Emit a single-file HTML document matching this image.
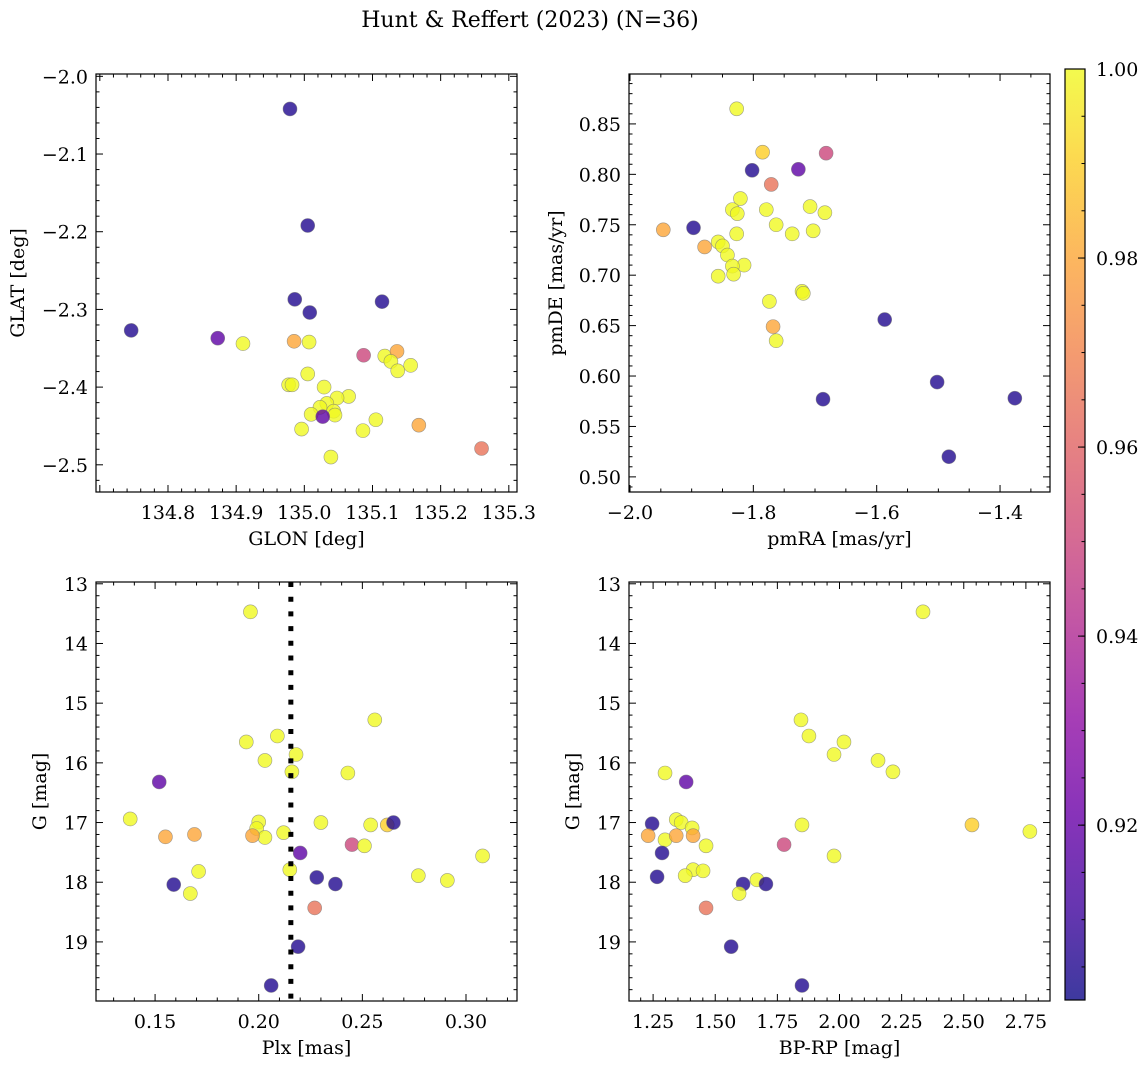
<!DOCTYPE html>
<html><head><meta charset="utf-8"><style>
body{margin:0;background:#fff}
svg text{font-family:"DejaVu Serif","Liberation Serif",serif;fill:#000}
</style></head><body>
<svg id="fig" xmlns="http://www.w3.org/2000/svg" width="1148" height="1068" viewBox="0 0 1148 1068">
<rect width="1148" height="1068" fill="#fff"/>
<text x="530" y="27" font-size="22" text-anchor="middle">Hunt &amp; Reffert (2023) (N=36)</text>
</svg>
<script>
// ---- data (per panel) ----
const glonVals=[134.746,134.873,134.910,134.979,135.005,134.986,135.008,135.114,134.985,135.007,135.087,135.118,135.136,135.127,135.137,135.156,135.005,134.977,134.982,135.029,135.065,135.048,135.033,135.023,135.043,135.045,135.010,135.027,134.996,135.086,135.105,135.168,135.039,135.260];
const glatVals=[-2.327,-2.337,-2.344,-2.042,-2.192,-2.287,-2.304,-2.290,-2.341,-2.342,-2.359,-2.360,-2.354,-2.367,-2.379,-2.372,-2.383,-2.397,-2.397,-2.400,-2.412,-2.414,-2.421,-2.426,-2.431,-2.436,-2.435,-2.438,-2.454,-2.456,-2.442,-2.449,-2.490,-2.479];
const probTL=[0.905,0.918,1,0.905,0.905,0.905,0.905,0.905,0.98,1,0.95,1,0.98,1,1,1,1,1,1,1,1,1,1,1,1,1,1,0.918,1,1,1,0.98,1,0.965];
const pmraVals=[-1.827,-1.785,-1.682,-1.727,-1.802,-1.771,-1.821,-1.834,-1.826,-1.779,-1.708,-1.684,-1.763,-1.737,-1.703,-1.827,-1.897,-1.946,-1.879,-1.857,-1.850,-1.842,-1.815,-1.834,-1.832,-1.857,-1.721,-1.719,-1.774,-1.768,-1.763,-1.587,-1.502,-1.687,-1.483,-1.376];
const pmdeVals=[0.865,0.822,0.821,0.805,0.804,0.790,0.776,0.765,0.761,0.765,0.768,0.762,0.750,0.741,0.744,0.741,0.747,0.745,0.728,0.733,0.729,0.720,0.710,0.709,0.701,0.699,0.684,0.682,0.674,0.649,0.635,0.656,0.594,0.577,0.520,0.578];
const probTR=[1,0.99,0.95,0.918,0.905,0.965,1,1,1,1,1,1,1,1,1,1,0.905,0.98,0.98,1,1,1,1,1,1,1,1,1,1,0.98,1,0.905,0.905,0.905,0.905,0.905];
const plxVals=[0.196,0.256,0.194,0.209,0.203,0.218,0.216,0.243,0.152,0.138,0.200,0.199,0.203,0.197,0.212,0.155,0.169,0.230,0.254,0.262,0.265,0.245,0.251,0.220,0.308,0.171,0.215,0.159,0.228,0.237,0.167,0.277,0.291,0.227,0.219,0.206];
const gBL=[13.47,15.28,15.65,15.55,15.96,15.86,16.15,16.17,16.32,16.94,16.99,17.10,17.25,17.22,17.17,17.24,17.20,17.00,17.04,17.04,17.00,17.37,17.39,17.51,17.56,17.82,17.79,18.04,17.92,18.03,18.19,17.89,17.97,18.43,19.08,19.73];
const probBL=[1,1,1,1,1,1,1,1,0.918,1,1,1,1,0.98,1,0.98,0.98,1,1,0.99,0.905,0.95,1,0.918,1,1,1,0.905,0.905,0.905,1,1,1,0.965,0.905,0.905];
const bprpVals=[2.336,1.845,1.877,2.018,1.978,2.155,2.215,1.298,1.383,1.246,1.230,1.298,1.343,1.363,1.407,1.343,1.411,1.849,2.533,2.766,1.463,1.777,1.286,1.978,1.411,1.451,1.379,1.266,1.612,1.668,1.704,1.596,1.463,1.564,1.849];
const gBR=[13.47,15.28,15.55,15.65,15.86,15.96,16.15,16.17,16.32,17.02,17.22,17.29,16.95,17.00,17.09,17.22,17.22,17.04,17.04,17.15,17.39,17.37,17.51,17.56,17.79,17.81,17.89,17.91,18.03,17.96,18.03,18.19,18.43,19.08,19.73];
const probBR=[1,1,1,1,1,1,1,1,0.918,0.905,0.98,1,1,1,1,0.98,0.98,1,0.99,1,1,0.95,0.905,1,1,1,1,0.905,0.905,1,0.905,1,0.965,0.905,0.905];
const plxLine=0.2155;
const cbTicks=[0.92,0.94,0.96,0.98,1.00];

const NS="http://www.w3.org/2000/svg";
const svg=document.getElementById('fig');
function mk(tag,attrs,parent){const e=document.createElementNS(NS,tag);for(const k in attrs)e.setAttribute(k,attrs[k]);(parent||svg).appendChild(e);return e;}
const stops=[[0,'#0d0887'],[0.1,'#41049d'],[0.2,'#6a00a8'],[0.3,'#8f0da4'],[0.4,'#b12a90'],[0.5,'#cc4778'],[0.6,'#e16462'],[0.7,'#f2844b'],[0.8,'#fca636'],[0.9,'#fcce25'],[1,'#f0f921']];
const CMIN=0.9015,CMAX=1.0;
function hex(h){return [1,3,5].map(i=>parseInt(h.substr(i,2),16));}
function plasma(v){let t=(v-CMIN)/(CMAX-CMIN);t=Math.max(0,Math.min(1,t));for(let i=0;i<stops.length-1;i++){if(t<=stops[i+1][0]){const f=(t-stops[i][0])/(stops[i+1][0]-stops[i][0]);const a=hex(stops[i][1]),b=hex(stops[i+1][1]);return 'rgb('+a.map((c,j)=>Math.round(c+(b[j]-c)*f)).join(',')+')';}}return stops[10][1];}
function fmt(v,d){const s=Math.abs(v).toFixed(d);return (v<-1e-9?'\u2212':'')+s;}
const FS=19;

function panel(o){
  const g=mk('g',{});
  
  
  const L=o.x0,R=o.x1,T=o.y0,B=o.y1;
  const sx=v=>L+(v-o.xmin)/(o.xmax-o.xmin)*(R-L);
  const sy=o.invert?(v=>T+(v-o.ymin)/(o.ymax-o.ymin)*(B-T)):(v=>B-(v-o.ymin)/(o.ymax-o.ymin)*(B-T));
  const pg=mk('g',{},g);
  
  
  for(let i=0;i<o.xs.length;i++){
    const c=mk('circle',{cx:sx(o.xs[i]),cy:sy(o.ys[i]),r:7,fill:plasma(o.p[i]),'fill-opacity':0.8,stroke:'#777','stroke-opacity':0.7,'stroke-width':0.6},pg);
    
    
  }
  if(o.vline!==undefined){
    const ln=mk('line',{x1:sx(o.vline),x2:sx(o.vline),y1:T,y2:B,stroke:'#000','stroke-width':5,'stroke-dasharray':'5,9.7'},g);
    
    
  }
  const tg=mk('g',{stroke:'#000','stroke-width':1},g);
  const eps=1e-9;
  let s=Math.ceil(o.xmin/o.xminor-eps);
  for(let k=s;k*o.xminor<=o.xmax+eps;k++){const v=k*o.xminor;const maj=Math.abs(v/o.xmajor-Math.round(v/o.xmajor))<1e-6;const len=maj?7:3.5;const X=sx(v);
    mk('line',{x1:X,x2:X,y1:B,y2:B-len},tg);mk('line',{x1:X,x2:X,y1:T,y2:T+len},tg);
    if(maj&&!(o.hideEdge&&X-L<10)){const t=mk('text',{x:X,y:B+27,'font-size':FS,'text-anchor':'middle',stroke:'none'},g);t.textContent=fmt(v,o.xd);}}
  s=Math.ceil(o.ymin/o.yminor-eps);
  for(let k=s;k*o.yminor<=o.ymax+eps;k++){const v=k*o.yminor;const maj=Math.abs(v/o.ymajor-Math.round(v/o.ymajor))<1e-6;const len=maj?7:3.5;const Y=sy(v);
    mk('line',{x1:L,x2:L+len,y1:Y,y2:Y},tg);mk('line',{x1:R,x2:R-len,y1:Y,y2:Y},tg);
    if(maj){const t=mk('text',{x:L-8,y:Y+7,'font-size':FS,'text-anchor':'end',stroke:'none'},g);t.textContent=fmt(v,o.yd);}}
  const fr=mk('rect',{x:L,y:T,width:R-L,height:B-T,fill:'none',stroke:'#000','stroke-width':1.2},g);
  
  const xl=mk('text',{x:(L+R)/2,y:B+53,'font-size':FS,'text-anchor':'middle'},g);xl.textContent=o.xlabel;
  
  const yl=mk('text',{x:o.ylx,y:(T+B)/2,'font-size':FS,'text-anchor':'middle',transform:'rotate(-90 '+o.ylx+' '+(T+B)/2+')'},g);yl.textContent=o.ylabel;
  
}
panel({name:'glon-glat-panel',x0:96,x1:517,y0:74,y1:492,xmin:134.6944,xmax:135.312,hideEdge:true,ymin:-2.535,ymax:-1.997,xmajor:0.1,xminor:0.02,ymajor:0.1,yminor:0.02,xd:1,yd:1,xs:glonVals,ys:glatVals,p:probTL,xlabel:'GLON [deg]',ylabel:'GLAT [deg]',ylx:24});
panel({name:'proper-motion-panel',x0:629,x1:1050,y0:74,y1:492,xmin:-2.0016,xmax:-1.319,ymin:0.485,ymax:0.8995,xmajor:0.2,xminor:0.05,ymajor:0.05,yminor:0.01,xd:1,yd:2,xs:pmraVals,ys:pmdeVals,p:probTR,xlabel:'pmRA [mas/yr]',ylabel:'pmDE [mas/yr]',ylx:562});
panel({name:'parallax-magnitude-panel',x0:96,x1:517,y0:582,y1:1001,xmin:0.1215,xmax:0.3246,ymin:12.97,ymax:19.99,invert:true,xmajor:0.05,xminor:0.01,ymajor:1,yminor:0.2,xd:2,yd:0,xs:plxVals,ys:gBL,p:probBL,vline:plxLine,xlabel:'Plx [mas]',ylabel:'G [mag]',ylx:46});
panel({name:'color-magnitude-panel',x0:629,x1:1050,y0:582,y1:1001,xmin:1.153,xmax:2.847,ymin:12.97,ymax:19.99,invert:true,xmajor:0.25,xminor:0.05,ymajor:1,yminor:0.2,xd:2,yd:0,xs:bprpVals,ys:gBR,p:probBR,xlabel:'BP-RP [mag]',ylabel:'G [mag]',ylx:579});

const cb=mk('g',{});


const CX0=1065,CX1=1085,CY0=69,CY1=1000;
const defs=mk('defs',{},cb);
const lg=mk('linearGradient',{id:'cbg',x1:0,y1:1,x2:0,y2:0},defs);
for(let i=0;i<=20;i++){const v=CMIN+(CMAX-CMIN)*i/20;mk('stop',{offset:i/20,'stop-color':plasma(v),'stop-opacity':0.8},lg);}
mk('rect',{x:CX0,y:CY0,width:CX1-CX0,height:CY1-CY0,fill:'url(#cbg)',stroke:'#000','stroke-width':1.2},cb);
const cy=v=>CY1-(v-CMIN)/(CMAX-CMIN)*(CY1-CY0);
for(let k=Math.ceil(CMIN/0.005);k*0.005<=CMAX+1e-9;k++){const v=k*0.005;mk('line',{x1:CX1,x2:CX1-3.5,y1:cy(v),y2:cy(v),stroke:'#000'},cb);}
cbTicks.forEach(v=>{mk('line',{x1:CX1,x2:CX1-7,y1:cy(v),y2:cy(v),stroke:'#000'},cb);
  const t=mk('text',{x:1096,y:cy(v)+7,'font-size':FS},cb);t.textContent=v.toFixed(2);
  });
</script>
</body></html>
